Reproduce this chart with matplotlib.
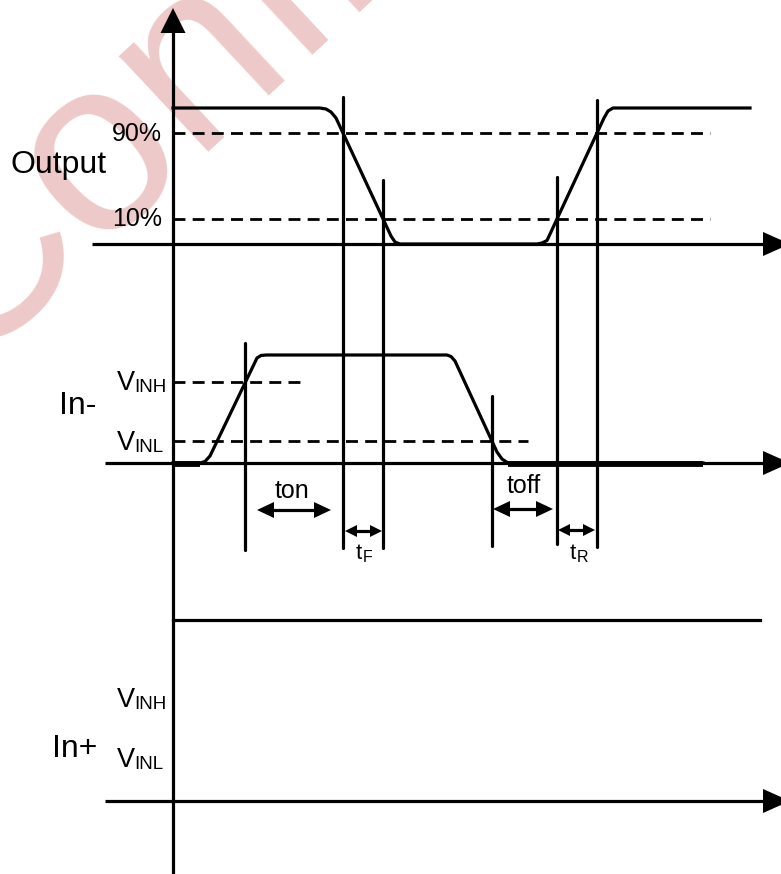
import matplotlib
matplotlib.use("Agg")
import matplotlib.pyplot as plt

plt.rcParams['font.family'] = ['Liberation Sans', 'DejaVu Sans']

# ---------------- data (pixel space of the diagram) ----------------
# Output waveform (time, level)
out_t = [173, 320, 326, 331, 336, 391, 395, 400, 537, 542, 547, 604, 608, 613, 750]
out_v = [108, 108, 109, 112, 118, 236, 242, 244, 244, 243, 240.5, 118, 111, 108, 108]

# In- waveform
in_t = [173, 200, 205, 210, 257, 261, 266, 447, 451, 455, 497, 502, 508, 703]
in_v = [463, 463, 461.5, 456, 358, 355.5, 355, 355, 356.5, 361, 452, 459, 463, 463]

# threshold levels
out_levels = [133, 219]
out_level_labels = ["90%", "10%"]
vinh_level = 382
vinl_level = 441

# timing markers (x, top, bottom)
mark_x = [245, 343, 383, 492, 557, 597]
mark_top = [343, 97, 180, 396, 177, 100]
mark_bot = [550, 548, 548, 546, 544, 547]

# interval arrows
arr_x0 = [257, 345, 493, 558]
arr_x1 = [331, 382, 553, 595]
arr_y = [510, 531, 509, 530]

LW = 2.3
fig = plt.figure(figsize=(7.81, 8.74), dpi=100)
ax = fig.add_axes([0, 0, 1, 1])
ax.set_xlim(0, 781)
ax.set_ylim(874, 0)
ax.axis('off')

# watermark
ax.text(-38, 370, "Confidential", fontsize=178, color='#eec9c9',
        rotation=43, rotation_mode='anchor', ha='left', va='baseline',
        zorder=0, fontweight='normal')

def harrow(y, x0, x1=790, base=763, hw=12):
    ax.plot([x0, base + 2], [y, y], color='k', lw=LW, solid_capstyle='butt', zorder=3)
    ax.fill([base, x1, base], [y - hw, y, y + hw], color='k', lw=0, zorder=3)

# vertical axis with arrow
ax.plot([173, 173], [30, 874], color='k', lw=LW, zorder=3)
ax.fill([160.5, 173, 185.5], [33, 8, 33], color='k', lw=0, zorder=3)

# horizontal axes
harrow(244, 92)
harrow(463, 105)
harrow(801, 105)
ax.plot([173, 760], [620, 620], color='k', lw=LW, zorder=3)

# waveforms
ax.plot(out_t, out_v, color='k', lw=LW, solid_joinstyle='round', zorder=4)
ax.plot(in_t, in_v, color='k', lw=LW, solid_joinstyle='round', zorder=4)
ax.plot(in_t[:2], [v + 1 for v in in_v[:2]], color='k', lw=4.2, solid_capstyle='butt', zorder=4)
ax.plot(in_t[-2:], [v + 1 for v in in_v[-2:]], color='k', lw=4.2, solid_capstyle='butt', zorder=4)

# dashed thresholds
dash = dict(color='k', lw=2.0, dashes=(4.3, 2.6), zorder=3)
for y in out_levels:
    ax.plot([173, 710], [y, y], **dash)
ax.plot([173, 300], [vinh_level, vinh_level], **dash)
ax.plot([173, 528], [vinl_level, vinl_level], **dash)

# markers
for x, t, b in zip(mark_x, mark_top, mark_bot):
    ax.plot([x, x], [t, b], color='k', lw=LW, solid_capstyle='round', zorder=4)

# double arrows
def darrow(x0, x1, y, hl, hw):
    ax.plot([x0 + hl - 1, x1 - hl + 1], [y, y], color='k', lw=LW, zorder=4)
    ax.fill([x0, x0 + hl, x0 + hl], [y, y - hw, y + hw], color='k', lw=0, zorder=4)
    ax.fill([x1, x1 - hl, x1 - hl], [y, y - hw, y + hw], color='k', lw=0, zorder=4)

for i, (a, b, y) in enumerate(zip(arr_x0, arr_x1, arr_y)):
    big = (i % 2 == 0)
    darrow(a, b, y, 17 if big else 12, 8 if big else 6)

# labels
FS_BIG = 23
FS_MED = 18
ax.text(10, 173, "Output", fontsize=FS_BIG, ha='left', va='baseline')
ax.text(59, 414, "In-", fontsize=FS_BIG, ha='left', va='baseline')
ax.text(52, 757, "In+", fontsize=FS_BIG, ha='left', va='baseline')
for y, lab, base in zip(out_levels, out_level_labels, [141, 226]):
    ax.text(162, base, lab, fontsize=FS_MED, ha='right', va='baseline')

def vlabel(base, sub):
    ax.text(117, base, "V", fontsize=19.5, ha='left', va='baseline')
    ax.text(134, base + 2, sub, fontsize=13.5, ha='left', va='baseline')

vlabel(390, "INH")
vlabel(450, "INL")
vlabel(707, "INH")
vlabel(767, "INL")

ax.text(292, 498, "ton", fontsize=FS_MED, ha='center', va='baseline')
ax.text(524, 493, "toff", fontsize=FS_MED, ha='center', va='baseline')

def tlabel(x, base, sub):
    ax.text(x, base, "t", fontsize=16, ha='left', va='baseline')
    ax.text(x + 7, base + 3, sub, fontsize=11.5, ha='left', va='baseline')

tlabel(356, 559, "F")
tlabel(570, 559, "R")

fig.savefig("out.png", dpi=100)
